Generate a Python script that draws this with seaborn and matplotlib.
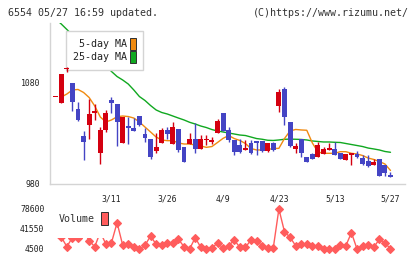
import numpy as np
import pandas as pd
import matplotlib
matplotlib.use("Agg")
import matplotlib.pyplot as plt
import seaborn as sns
from matplotlib.patches import Patch, Rectangle

# header strings
header_left = "6554 05/27 16:59 updated."
header_right = "(C)https://www.rizumu.net/"

# daily candles (oldest -> newest)
opens = [1066, 1060.5, 1093.5, 1080, 1054, 1027.5, 1038.5, 1050, 1010.5, 1033,
         1063, 1059, 1021, 1037.5, 1035, 1047.5, 1029.5, 1025, 1013, 1021,
         1033.5, 1019.5, 1034, 1016.5, 1019.5, 1025, 1014.5, 1023.5, 1021.5, 1030,
         1050.5, 1033.5, 1023.5, 1018.5, 1013.5, 1020.5, 1022.5, 1022.5, 1013, 1021,
         1057.5, 1074.5, 1041.5, 1015, 1025, 1006.5, 1009.5, 1007, 1009.5, 1013.5,
         1014.5, 1010.5, 1004, 1008.5, 1009.5, 1006, 1003, 999, 1005, 999, 989]
highs = [1066, 1089, 1096, 1080, 1061, 1032, 1064, 1059, 1036.5, 1053,
         1066.5, 1059, 1046, 1046, 1045, 1047.5, 1035, 1025, 1030, 1035,
         1036, 1041.5, 1034, 1016.5, 1030, 1040, 1028.5, 1028.5, 1027, 1044,
         1050.5, 1036.5, 1023.5, 1024.5, 1024, 1023.5, 1022.5, 1022.5, 1020.5, 1022,
         1074.5, 1076.5, 1041.5, 1020.5, 1025, 1006.5, 1011, 1022, 1017, 1021,
         1022, 1010.5, 1009.5, 1011, 1012.5, 1008.5, 1008.5, 1004.5, 1005, 999, 992]
lows = [1066, 1060.5, 1091, 1052, 1042, 1004, 1024.5, 1043.5, 999.5, 1031,
        1050, 1018, 1021, 1020, 1032, 1037.5, 1022, 1004.5, 1011, 1021,
        1025, 1019.5, 1012, 1002, 1019.5, 1011, 1014.5, 1018.5, 1020, 1030,
        1032, 1022, 1008.5, 1010.5, 1013.5, 1009.5, 1008.5, 1012, 1012, 1012.5,
        1051.5, 1038.5, 1016.5, 1011, 1007, 1002, 1005, 1007, 1009.5, 1013.5,
        1008.5, 1005, 1004, 999, 1005.5, 999, 996.5, 999, 988, 988, 987]
closes = [1066, 1089, 1094, 1061, 1043, 1022, 1049, 1052.5, 1033.5, 1050.5,
          1060.5, 1041.5, 1046, 1035, 1032.5, 1038.5, 1026, 1007, 1016.5, 1033.5,
          1029.5, 1036, 1013.5, 1002, 1025, 1014.5, 1024.5, 1025, 1023.5, 1042.5,
          1032, 1023.5, 1012, 1012, 1016, 1010.5, 1021, 1013, 1020.5, 1013.5,
          1071.5, 1046, 1017.5, 1018, 1011, 1002, 1005, 1018.5, 1014.5, 1015.5,
          1008.5, 1005, 1009.5, 1010.5, 1006.5, 1000, 998, 1002, 988, 991, 987]

ma5 = [np.nan, 1066.1, 1069.1, 1073.1, 1073.6, 1070.6, 1065.6, 1057.2, 1046.3, 1041.4,
       1043.4, 1046.6, 1047.3, 1046.8, 1045.3, 1041.4, 1036.4, 1031.5, 1026.5, 1023.6,
       1022.9, 1022.9, 1020.6, 1019.6, 1019.6, 1018.6, 1017.6, 1016.3, 1017.1, 1021.1,
       1025.2, 1028.0, 1025.0, 1023.1, 1020.1, 1015.1, 1013.7, 1013.7, 1014.2, 1015.1,
       1015.3, 1025.0, 1032.5, 1034.0, 1033.5, 1033.2, 1020.6, 1011.7, 1010.4, 1010.4,
       1010.4, 1012.0, 1012.0, 1010.4, 1009.7, 1008.2, 1005.7, 1004.3, 1002.3, 999.8, 993.4]
ma25 = [1143.4, 1138.4, 1133.0, 1127.5, 1122.6, 1117.6, 1112.7, 1107.7, 1102.3, 1096.8,
        1091.4, 1086.4, 1083.0, 1079.0, 1073.1, 1066.6, 1062.7, 1057.7, 1053.3, 1050.8,
        1049.3, 1047.3, 1045.3, 1043.4, 1041.1, 1039.4, 1037.4, 1035.9, 1033.9, 1032.5,
        1031.5, 1030.5, 1029.5, 1028.5, 1028.0, 1026.5, 1025.0, 1024.3, 1023.3, 1023.1,
        1023.6, 1024.3, 1024.4, 1024.3, 1024.1, 1023.6, 1022.6, 1022.1, 1021.6, 1021.6,
        1021.3, 1021.1, 1020.1, 1019.1, 1018.1, 1017.1, 1015.6, 1014.7, 1013.7, 1012.2, 1011.4]

volume = [np.nan, 26730, 8760, 25800, 25800, 37850, 19880, 8760, 36000, 13210,
          16170, 53220, 11910, 13210, 7650, 4500, 11350, 28580, 13210, 11910,
          15060, 15060, 22470, 8760, 4500, 25430, 7650, 4500, 5800, 16170,
          5800, 10610, 21170, 7650, 7650, 21170, 19320, 10610, 6910, 6910,
          78600, 36550, 26170, 10610, 13210, 13210, 10060, 10060, 4500, 4500,
          4500, 11910, 10610, 34700, 4500, 10610, 11910, 7650, 22470, 16170, 4500]

date_pos = [10, 20, 30, 40, 50, 60]
date_labels = ["3/11", "3/26", "4/9", "4/23", "5/13", "5/27"]
price_ticks = [980, 1080]
volume_ticks = [4500, 41550, 78600]

UP = "#d40010"
DOWN = "#4444c4"
MA5_COLOR = "#f08a10"
MA25_COLOR = "#10a820"
VOL_COLOR = "#ff5c5c"
AXIS_GRAY = "#d4d4d4"
TEXT = "#222222"
MONO = "DejaVu Sans Mono"
PX = 0.72  # one pixel in points at dpi 100

sns.set_style("white")
plt.rcParams["font.family"] = [MONO, "DejaVu Sans"]

df = pd.DataFrame({
    "idx": np.arange(len(opens)),
    "open": opens, "high": highs, "low": lows, "close": closes,
    "ma5": ma5, "ma25": ma25, "volume": volume,
})

W, H = 420, 259
fig = plt.figure(figsize=(W / 100, H / 100), dpi=100)
ax = fig.add_axes([50 / W, 1 - 184 / H, 355 / W, 161.3 / H])
axv = fig.add_axes([50 / W, 1 - 249 / H, 355 / W, 40 / H])

xlim = (-1.02, 62.6)

# moving averages (behind the legend box)
sns.lineplot(data=df, x="idx", y="ma25", ax=ax, color=MA25_COLOR, lw=1.0, zorder=2)
sns.lineplot(data=df, x="idx", y="ma5", ax=ax, color=MA5_COLOR, lw=1.0, zorder=2)

# candles
up = df["close"] >= df["open"]
colors = np.where(up, UP, DOWN)
body_lo = df[["open", "close"]].min(axis=1)
body_h = (df["close"] - df["open"]).abs().clip(lower=1.0)
ax.vlines(df["idx"], df["low"], df["high"], colors=colors, lw=1.0, zorder=4)
ax.bar(df["idx"], body_h, bottom=body_lo, width=0.88, color=colors, lw=0, zorder=4)

ax.set_xlim(*xlim)
ax.set_ylim(980, 1139.7)
for s in ["top", "right"]:
    ax.spines[s].set_visible(False)
for s in ["left", "bottom"]:
    ax.spines[s].set_color(AXIS_GRAY)
    ax.spines[s].set_linewidth(1.4 * PX)
ax.set_xlabel("")
ax.set_ylabel("")
ax.set_xticks(date_pos)
ax.set_xticklabels(date_labels)
ax.set_xticks(np.linspace(xlim[0], xlim[1], 12), minor=True)
ax.tick_params(axis="x", which="major", length=0, pad=7.5, labelsize=5.9, labelcolor=TEXT)
ax.tick_params(axis="x", which="minor", direction="inout", length=6, width=1.4 * PX, color=AXIS_GRAY)
ax.set_yticks(price_ticks)
ax.set_yticklabels([str(t) for t in price_ticks])
ax.tick_params(axis="y", direction="inout", length=7, width=1.4 * PX, color=AXIS_GRAY,
               pad=3.5, labelsize=5.9, labelcolor=TEXT)

handles = [Patch(facecolor=MA5_COLOR, edgecolor="#333333", lw=PX),
           Patch(facecolor=MA25_COLOR, edgecolor="#333333", lw=PX)]
leg = ax.legend(handles, ["5-day MA", "25-day MA"], loc="upper left",
                bbox_to_anchor=(65.7 / W, 1 - 30.7 / H), bbox_transform=fig.transFigure,
                borderaxespad=0, markerfirst=False, prop={"family": MONO, "size": 7.2},
                handlelength=0.6, handleheight=1.5, handletextpad=0.3, labelspacing=0.1,
                borderpad=0.7, fancybox=False, frameon=True, framealpha=1,
                facecolor="white", edgecolor=AXIS_GRAY)
leg.get_frame().set_linewidth(1.4 * PX)
leg.set_zorder(3)
for t in leg.get_texts():
    t.set_color(TEXT)

# volume panel
sns.lineplot(data=df, x="idx", y="volume", ax=axv, color=VOL_COLOR, lw=1.0,
             marker="D", markersize=3.6, markeredgewidth=0.8, markeredgecolor=VOL_COLOR,
             clip_on=False, zorder=2)
axv.set_xlim(*xlim)
axv.set_ylim(4500, 78600)
for s in axv.spines.values():
    s.set_visible(False)
axv.set_xlabel("")
axv.set_ylabel("")
axv.set_xticks([])
axv.set_yticks(volume_ticks)
axv.set_yticklabels([str(t) for t in volume_ticks])
axv.tick_params(axis="y", length=0, pad=4, labelsize=5.9, labelcolor=TEXT)
axv.patch.set_alpha(0)

# white box behind the volume legend hides the line under it
axv.add_patch(Rectangle((56 / W, 1 - 237.5 / H), 55 / W, 34 / H, transform=fig.transFigure,
                        facecolor="white", edgecolor="none", clip_on=False, zorder=4))
vleg = axv.legend([Patch(facecolor=VOL_COLOR, edgecolor="#333333", lw=PX)], ["Volume"],
                  loc="upper left", bbox_to_anchor=(58.5 / W, 1 - 212 / H),
                  bbox_transform=fig.transFigure, borderaxespad=0, borderpad=0,
                  markerfirst=True, prop={"family": MONO, "size": 7.2},
                  handlelength=0.75, handleheight=1.55, handletextpad=0.6, frameon=False)
vleg.set_zorder(5)
# handle goes after the text
vleg._legend_handle_box.get_children()[0].get_children()[0]._children.reverse()
for t in vleg.get_texts():
    t.set_color("#333333")

fig.text(8 / W, 1 - 13 / H, header_left, ha="left", va="center", fontsize=7.2,
         family=MONO, color="#333333")
fig.text(409 / W, 1 - 13 / H, header_right, ha="right", va="center", fontsize=7.2,
         family=MONO, color="#333333")

fig.savefig("out.png", dpi=100, facecolor="white")
